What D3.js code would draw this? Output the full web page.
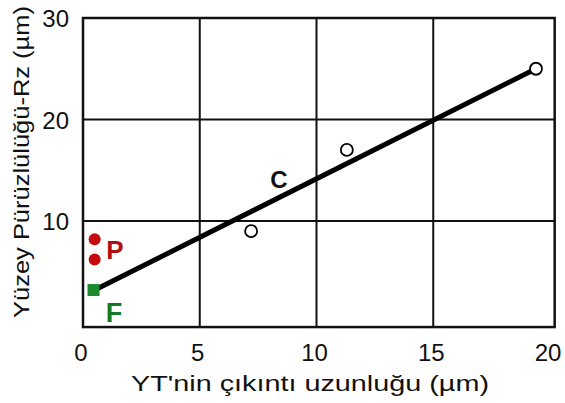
<!DOCTYPE html>
<html>
<head>
<meta charset="utf-8">
<script src="https://unpkg.com/d3@7.8.5/dist/d3.min.js"></script>
<style>
  body { margin: 0; background: #fff; }
  text { font-family: "Liberation Sans", Arial, sans-serif; }
</style>
</head>
<body>
<div id="chart"></div>
<script>
// data
let xTicks = [0, 5, 10, 15, 20];
let yTicks = [10, 20, 30];
let cX = [7.2, 11.3, 19.4];
let cY = [9.0, 17.0, 25.0];
let pX = [0.5, 0.5];
let pY = [8.2, 6.2];
let fX = [0.45];
let fY = [3.2];
let fitX = [0.5, 19.4];
let fitY = [3.2, 25.0];
let xTitle = "YT'nin çıkıntı uzunluğu (µm)";
let yTitle = "Yüzey Pürüzlülüğü-Rz (µm)";

let width = 565;
let height = 403;
let xMax = 20.2;
let yMin = -0.45;

let svg = d3.select("#chart").append("svg")
    .attr("width", width)
    .attr("height", height);

// 20 sits at about x=550, frame runs a bit past it
let x = d3.scaleLinear()
    .domain([0, xMax])
    .range([83, 83 + (550 - 83) * xMax / 20]);

// 30 at top edge, frame runs a bit below 0
let y = d3.scaleLinear()
    .domain([0, 30])
    .range([322.5, 18]);

let frameBottom = y(yMin);

// grid
svg.append("g")
    .selectAll("line")
    .data(xTicks.filter(d => d > 0 && d < 20))
    .join("line")
        .attr("x1", d => x(d)).attr("x2", d => x(d))
        .attr("y1", frameBottom).attr("y2", y(30))
        .attr("stroke", "#111")
        .attr("stroke-width", 2);
svg.append("g")
    .selectAll("line")
    .data(yTicks)
    .join("line")
        .attr("x1", x(0)).attr("x2", x(xMax))
        .attr("y1", d => y(d)).attr("y2", d => y(d))
        .attr("stroke", "#111")
        .attr("stroke-width", 2);

// frame
svg.append("rect")
    .attr("x", x(0))
    .attr("y", y(30))
    .attr("width", x(xMax) - x(0))
    .attr("height", frameBottom - y(30))
    .attr("fill", "none")
    .attr("stroke", "#111")
    .attr("stroke-width", 2.5);

// tick labels
svg.append("g")
    .selectAll("text")
    .data(xTicks)
    .join("text")
        .attr("x", d => x(d) - 2)
        .attr("y", frameBottom + 34)
        .attr("text-anchor", "middle")
        .attr("font-size", 24)
        .attr("fill", "#111")
        .text(d => d);
svg.append("g")
    .selectAll("text")
    .data(yTicks)
    .join("text")
        .attr("x", x(0) - 14)
        .attr("y", d => y(d) + 9)
        .attr("text-anchor", "end")
        .attr("font-size", 24)
        .attr("fill", "#111")
        .text(d => d);

// axis titles
svg.append("text")
    .attr("x", 310)
    .attr("y", 391)
    .attr("text-anchor", "middle")
    .attr("font-size", 22)
    .attr("fill", "#111")
    .attr("textLength", 358)
    .attr("lengthAdjust", "spacingAndGlyphs")
    .text(xTitle);
svg.append("text")
    .attr("transform", "translate(29,162) rotate(-90)")
    .attr("text-anchor", "middle")
    .attr("font-size", 22)
    .attr("fill", "#111")
    .attr("textLength", 312)
    .attr("lengthAdjust", "spacingAndGlyphs")
    .text(yTitle);

// fit line
let line = d3.line()
    .x(d => x(d[0]))
    .y(d => y(d[1]));
svg.append("path")
    .datum(d3.zip(fitX, fitY))
    .attr("d", line)
    .attr("fill", "none")
    .attr("stroke", "#000")
    .attr("stroke-width", 5);

// C points
svg.append("g")
    .selectAll("circle")
    .data(d3.zip(cX, cY))
    .join("circle")
        .attr("cx", d => x(d[0]))
        .attr("cy", d => y(d[1]))
        .attr("r", 6)
        .attr("fill", "#fff")
        .attr("stroke", "#000")
        .attr("stroke-width", 1.8);

// P points
svg.append("g")
    .selectAll("circle")
    .data(d3.zip(pX, pY))
    .join("circle")
        .attr("cx", d => x(d[0]))
        .attr("cy", d => y(d[1]))
        .attr("r", 6)
        .attr("fill", "#c40a0a");

// F point
svg.append("g")
    .selectAll("rect")
    .data(d3.zip(fX, fY))
    .join("rect")
        .attr("x", d => x(d[0]) - 6)
        .attr("y", d => y(d[1]) - 6)
        .attr("width", 12)
        .attr("height", 12)
        .attr("fill", "#1a8a2a");

// series labels
svg.append("text")
    .attr("x", 279).attr("y", 188)
    .attr("text-anchor", "middle")
    .attr("font-size", 24).attr("font-weight", "bold")
    .attr("fill", "#111")
    .text("C");
svg.append("text")
    .attr("x", 115).attr("y", 259)
    .attr("text-anchor", "middle")
    .attr("font-size", 26).attr("font-weight", "bold")
    .attr("fill", "#b01010")
    .text("P");
svg.append("text")
    .attr("x", 114).attr("y", 322)
    .attr("text-anchor", "middle")
    .attr("font-size", 27).attr("font-weight", "bold")
    .attr("fill", "#137a24")
    .text("F");
</script>
</body>
</html>
